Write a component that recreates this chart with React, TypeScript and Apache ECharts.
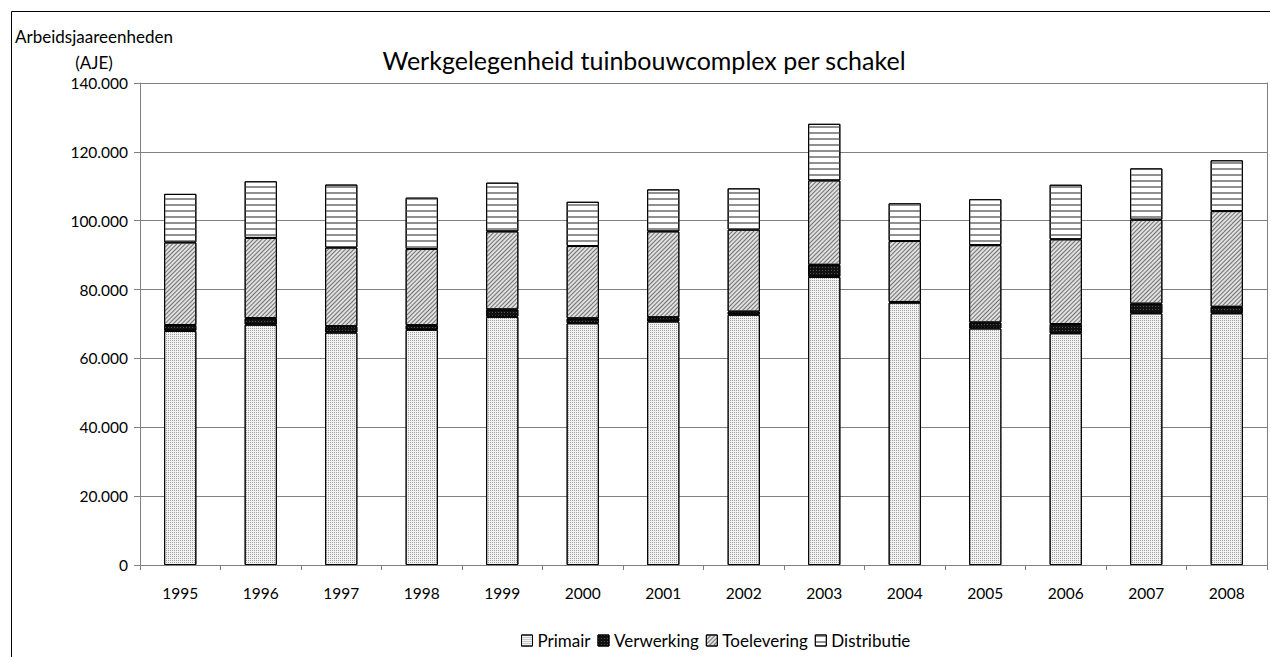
import React, { useEffect, useRef } from "react";
import * as echarts from "echarts";

const years = ["1995","1996","1997","1998","1999","2000","2001","2002","2003","2004","2005","2006","2007","2008"];
const primair = [68000,69800,67500,68300,72100,70200,70700,72700,83700,76200,68700,67300,73100,73100];
const verwerking = [1700,1900,1850,1350,2150,1450,1250,900,3500,200,1750,2700,2800,1900];
const toelevering = [24000,23300,22850,22150,22650,21000,24950,23800,24500,17700,22450,24600,24400,27800];
const distributie = [14100,16450,18300,14900,14150,12850,12200,12000,16450,10950,13350,15850,14900,14750];

const FONT = "Lato, 'Liberation Sans', sans-serif";

export default function App() {
  const ref = useRef<HTMLDivElement>(null);
  useEffect(() => {
    document.body.style.margin = "0";
    const chart = echarts.init(ref.current!, null, { renderer: "svg" });
    const yFmt = (v: number) => (v === 0 ? "0" : (v / 1000).toFixed(0) + ".000");
    const base = {
      type: "bar",
      stack: "total",
      barWidth: "40%",
    };
    chart.setOption({
      animation: false,
      aria: { enabled: true, decal: { show: true } },
      textStyle: { fontFamily: FONT },
      grid: { left: 140, right: 3, top: 83, bottom: 92 },
      title: {
        text: "Werkgelegenheid tuinbouwcomplex per schakel",
        left: 639,
        textAlign: "center",
        top: 42,
        textStyle: { fontFamily: FONT, fontSize: 25, fontWeight: "normal", color: "#000" },
      },
      legend: {
        bottom: 3,
        left: 516,
        itemWidth: 11,
        itemHeight: 11,
        itemGap: 7,
        itemStyle: { borderColor: "#000", borderWidth: 1 },
        icon: "rect",
        textStyle: { fontFamily: FONT, fontSize: 17, color: "#000" },
        data: ["Primair", "Verwerking", "Toelevering", "Distributie"],
      },
      graphic: [
        {
          type: "rect",
          shape: { x: 11.5, y: 11.5, width: 1300, height: 700 },
          style: { fill: "none", stroke: "#000", lineWidth: 1 },
          silent: true,
        },
        {
          type: "text",
          x: 94,
          y: 36,
          style: { text: "Arbeidsjaareenheden", fontFamily: FONT, fontSize: 17, fill: "#000", textAlign: "center", textVerticalAlign: "middle" },
        },
        {
          type: "text",
          x: 94,
          y: 62,
          style: { text: "(AJE)", fontFamily: FONT, fontSize: 17, fill: "#000", textAlign: "center", textVerticalAlign: "middle" },
        },
      ],
      xAxis: {
        type: "category",
        data: years,
        axisLine: { lineStyle: { color: "#808080", width: 1 } },
        axisTick: { show: true, length: 5, lineStyle: { color: "#808080" } },
        axisLabel: { color: "#000", fontSize: 15.5, margin: 20, fontFamily: FONT },
      },
      yAxis: [
        {
          type: "value",
          min: 0,
          max: 140000,
          interval: 20000,
          axisLine: { show: true, lineStyle: { color: "#808080", width: 1 } },
          axisTick: { show: true, length: 6, lineStyle: { color: "#808080" } },
          axisLabel: { color: "#000", fontSize: 15.5, margin: 12, fontFamily: FONT, formatter: yFmt },
          splitLine: { show: true, lineStyle: { color: "#808080", width: 1 } },
        },
        {
          type: "value",
          min: 0,
          max: 140000,
          interval: 20000,
          position: "right",
          axisLine: { show: true, lineStyle: { color: "#808080", width: 1 } },
          axisTick: { show: false },
          axisLabel: { show: false },
          splitLine: { show: false },
        },
      ],
      series: [
        {
          ...base,
          name: "Primair",
          data: primair,
          itemStyle: {
            color: "#f2f2f2",
            borderColor: "#000",
            borderWidth: 1,
            decal: { symbol: "rect", symbolSize: 1, dashArrayX: [1, 1], dashArrayY: [1, 1], rotation: 0, color: "#a0a0a0" },
          },
        },
        {
          ...base,
          name: "Verwerking",
          data: verwerking,
          itemStyle: {
            color: "#111111",
            borderColor: "#000",
            borderWidth: 1,
            decal: { symbol: "rect", symbolSize: 1, dashArrayX: [1, 2], dashArrayY: [1, 2], rotation: 0, color: "#555" },
          },
        },
        {
          ...base,
          name: "Toelevering",
          data: toelevering,
          itemStyle: {
            color: "#e0e0e0",
            borderColor: "#000",
            borderWidth: 1,
            decal: { symbol: "rect", symbolSize: 1, dashArrayX: [1, 0], dashArrayY: [1, 1.2], rotation: -Math.PI / 4, color: "#707070" },
          },
        },
        {
          ...base,
          name: "Distributie",
          data: distributie,
          itemStyle: {
            color: "#ffffff",
            borderColor: "#000",
            borderWidth: 1,
            decal: { symbol: "rect", symbolSize: 1, dashArrayX: [1, 0], dashArrayY: [2, 4], rotation: 0, color: "#909090" },
          },
        },
      ],
    });
    return () => chart.dispose();
  }, []);
  return <div ref={ref} style={{ position: "absolute", left: 0, top: 0, width: 1270, height: 657 }} />;
}
